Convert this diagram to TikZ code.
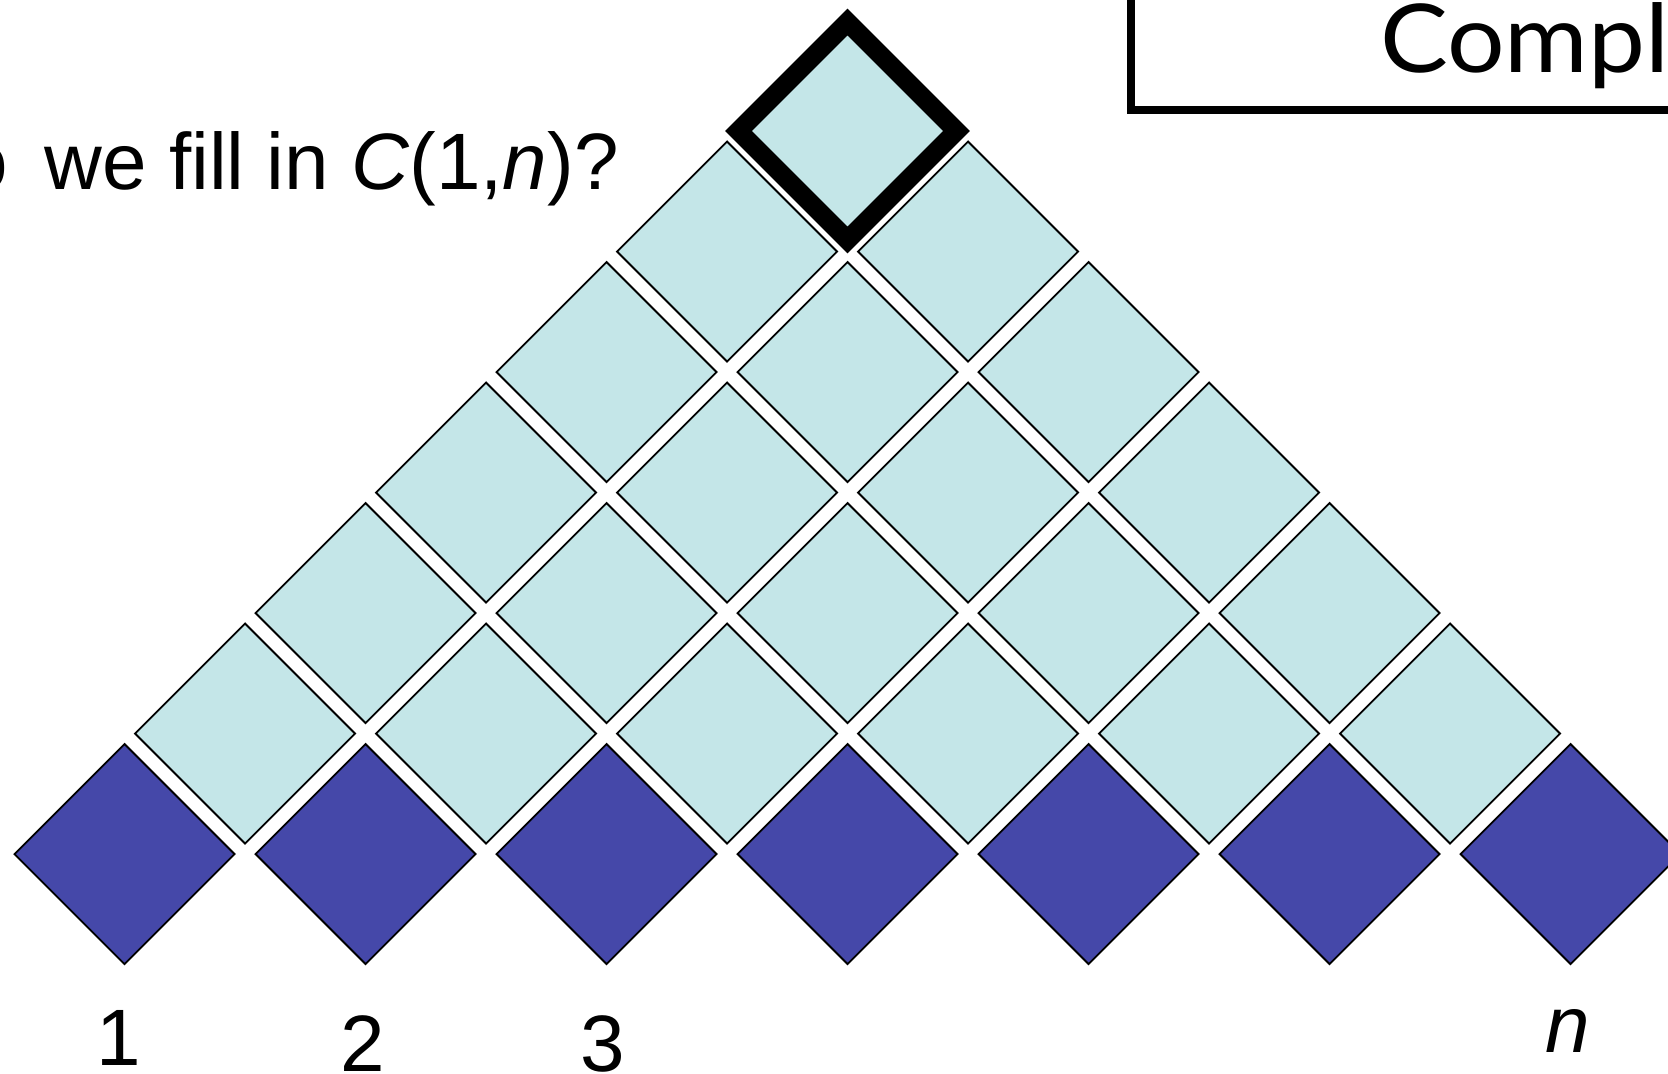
\documentclass[tikz,border=0pt]{standalone}
\usepackage{fontspec}
\setmainfont{Liberation Sans}
\newfontfamily\latofont[FakeStretch=1.07]{Lato}
\usetikzlibrary{shapes.geometric}
\definecolor{lightcell}{RGB}{196,230,232}
\definecolor{darkcell}{RGB}{69,72,169}
\begin{document}
\begin{tikzpicture}[x=0.5pt,y=-0.5pt,
  cell/.style={diamond, shape aspect=1, inner sep=0pt, outer sep=0pt,
    minimum width=110pt, minimum height=110pt, draw=black, line width=0.9pt},
  uppercell/.style={cell, fill=lightcell},
  leafcell/.style={cell, fill=darkcell},
  apexcell/.style={cell, fill=lightcell, line width=9.5pt, line join=miter,
    minimum width=109pt, minimum height=109pt},
  lbl/.style={font=\fontsize{40}{48}\selectfont, inner sep=0pt, anchor=base}
]
\useasboundingbox (0,0) rectangle (1668,1073);
\clip (0,0) rectangle (1668,1073);
% title box
\draw[line width=4pt] (1131,-60) rectangle (1800,110);
\node[font=\latofont\fontsize{47.5}{57}\selectfont, anchor=base west, inner sep=0pt] (title) at (1380,72) {Compl};
% question
\node[font=\fontsize{40}{48}\selectfont, anchor=base east, inner sep=0pt] (question) at (619,189)
  {How do\hspace{7pt} we fill in \textit{C}(1,\textit{n})?};
% bottom row
\foreach \i in {0,...,6}
  \node[leafcell] (b\i) at ({124.5+241*\i},854) {};
% upper rows
\foreach \r in {1,...,5} {
  \pgfmathtruncatemacro\lastidx{6-\r}
  \foreach \i in {0,...,\lastidx}
    \node[uppercell] (c\r-\i) at ({124.5+120.5*\r+241*\i},{854-120.5*\r}) {};
}
% apex
\node[apexcell] (apex) at (847.5,131) {};
% labels
\node[lbl] (l1) at (119,1065) {1};
\node[lbl] (l2) at (363,1071.5) {2};
\node[lbl] (l3) at (603,1071.5) {3};
\node[lbl] (ln) at (1568,1052) {\textit{n}};
\end{tikzpicture}
\end{document}
